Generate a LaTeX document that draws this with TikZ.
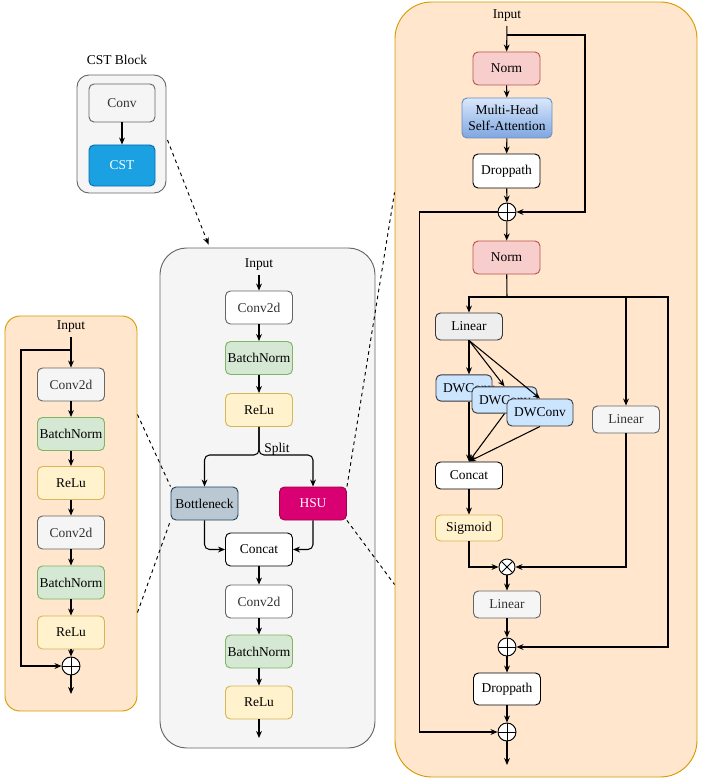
\documentclass[tikz,border=0pt]{standalone}
\usepackage{fontspec}
\setmainfont{Liberation Serif}
\usetikzlibrary{arrows.meta,calc,positioning}
\definecolor{orfill}{HTML}{FFE6CC}
\definecolor{ordraw}{HTML}{D79B00}
\definecolor{gyfill}{HTML}{F5F5F5}
\definecolor{gydraw}{HTML}{666666}
\definecolor{gytext}{HTML}{333333}
\definecolor{grfill}{HTML}{D5E8D4}
\definecolor{grdraw}{HTML}{82B366}
\definecolor{ylfill}{HTML}{FFF2CC}
\definecolor{yldraw}{HTML}{D6B656}
\definecolor{rdfill}{HTML}{F8CECC}
\definecolor{rddraw}{HTML}{B85450}
\definecolor{bltop}{HTML}{DAE8FC}
\definecolor{blbot}{HTML}{7EA6E0}
\definecolor{bldraw}{HTML}{6C8EBF}
\definecolor{dwfill}{HTML}{CCE5FF}
\definecolor{dkdraw}{HTML}{36393D}
\definecolor{lnfill}{HTML}{EEEEEE}
\definecolor{btfill}{HTML}{BAC8D3}
\definecolor{btdraw}{HTML}{23445D}
\definecolor{hsfill}{HTML}{D80073}
\definecolor{hsdraw}{HTML}{A50040}
\definecolor{csfill}{HTML}{1BA1E2}
\definecolor{csdraw}{HTML}{006EAF}
\tikzset{pin/.style={-{Stealth[length=6pt,width=5pt]}, line width=0.9pt},
  wire/.style={line width=0.9pt},
  dashln/.style={dashed, line width=0.8pt},
  blk/.style={draw, line width=0.8pt, rounded corners=1.5mm, minimum width=20.1mm,
    minimum height=9.9mm, inner sep=1pt, align=center},
  gybox/.style={blk, fill=gyfill, draw=gydraw, text=gytext},
  grbox/.style={blk, fill=grfill, draw=grdraw},
  ylbox/.style={blk, fill=ylfill, draw=yldraw},
  rdbox/.style={blk, fill=rdfill, draw=rddraw},
  wtbox/.style={blk, fill=white, draw=black},
  dwbox/.style={blk, fill=dwfill, draw=dkdraw, minimum height=7.9mm},
  panel/.style={draw, line width=0.8pt, fill=orfill, draw=ordraw},
  gypanel/.style={draw, line width=0.8pt, fill=gyfill, draw=gydraw},
  addnode/.style={circle, draw, fill=white, line width=0.8pt, minimum size=5.4mm, inner sep=0pt,
    path picture={\draw[line width=0.8pt] (path picture bounding box.north) -- (path picture bounding box.south)
      (path picture bounding box.west) -- (path picture bounding box.east);}},
  mulnode/.style={circle, draw, fill=white, line width=0.8pt, minimum size=4.8mm, inner sep=0pt,
    path picture={\draw[line width=0.8pt] (path picture bounding box.north west) -- (path picture bounding box.south east)
      (path picture bounding box.south west) -- (path picture bounding box.north east);}}}

\begin{document}
\begin{tikzpicture}[x=0.3mm, y=-0.3mm, font=\fontsize{11.5}{13.8}\selectfont]
  \useasboundingbox (0,0) rectangle (700,779);
  % panels
  \node[gypanel, rounded corners=3.6mm, minimum width=26.7mm, minimum height=35.4mm] (cstblk) at (121.5,134) {};
  \node[gypanel, rounded corners=8mm, minimum width=64.5mm, minimum height=150mm] (ctr) at (267.5,498) {};
  \node[panel, rounded corners=4.5mm, minimum width=39.6mm, minimum height=118.5mm] (lft) at (71,513.5) {};
  \node[panel, rounded corners=11mm, minimum width=90.6mm, minimum height=232.5mm] (rgt) at (546,389.5) {};

  % CST block
  \node (cstlbl) at (117,60) {CST Block};
  \node[gybox, minimum width=19.8mm, minimum height=11.4mm] (conv) at (122,103) {Conv};
  \node[blk, fill=csfill, draw=csdraw, text=white, minimum width=19.8mm, minimum height=12.3mm] (cst) at (122,165.5) {CST};
  \draw[pin] (conv) -- (cst);

  % center
  \node (cin) at (259,265) {Input};
  \node[gybox, fill=white] (cc1) at (259,307.5) {Conv2d};
  \node[grbox] (cb1) at (259,358) {BatchNorm};
  \node[ylbox] (cr1) at (259,410) {ReLu};
  \coordinate (csp) at (259,455);
  \node (split) at (277,449) {Split};
  \node[blk, fill=btfill, draw=btdraw] (bott) at (204.5,503.5) {Bottleneck};
  \node[blk, fill=hsfill, draw=hsdraw, text=white] (hsu) at (313,503.5) {HSU};
  \node[wtbox] (ccat) at (259,549.5) {Concat};
  \node[gybox, fill=white] (cc2) at (259,601.5) {Conv2d};
  \node[grbox] (cb2) at (259,651.5) {BatchNorm};
  \node[ylbox] (cr2) at (259,702.5) {ReLu};
  \coordinate (cout) at (259,738);
  \draw[pin] (cin) -- (cc1);
  \draw[pin] (cc1) -- (cb1);
  \draw[pin] (cb1) -- (cr1);
  \draw[pin, rounded corners=1.5mm] (cr1.south) -- (csp) -| (bott.north);
  \draw[pin, rounded corners=1.5mm] (cr1.south) -- (csp) -| (hsu.north);
  \draw[pin, rounded corners=1.5mm] (bott.south) |- (ccat.west);
  \draw[pin, rounded corners=1.5mm] (hsu.south) |- (ccat.east);
  \draw[pin] (ccat) -- (cc2);
  \draw[pin] (cc2) -- (cb2);
  \draw[pin] (cb2) -- (cr2);
  \draw[pin] (cr2) -- (cout);

  % left
  \node (lin) at (71,327) {Input};
  \node[gybox] (lc1) at (71,384.5) {Conv2d};
  \node[grbox] (lb1) at (71,434) {BatchNorm};
  \node[ylbox] (lr1) at (71,483) {ReLu};
  \node[gybox] (lc2) at (71,532.5) {Conv2d};
  \node[grbox] (lb2) at (71,582.5) {BatchNorm};
  \node[ylbox] (lr2) at (71,632.5) {ReLu};
  \node[addnode] (ladd) at (71,666) {};
  \coordinate (lsk) at (71,350);
  \coordinate (lout) at (71,694);
  \draw[pin] (lin) -- (lc1);
  \draw[pin] (lc1) -- (lb1);
  \draw[pin] (lb1) -- (lr1);
  \draw[pin] (lr1) -- (lc2);
  \draw[pin] (lc2) -- (lb2);
  \draw[pin] (lb2) -- (lr2);
  \draw[pin] (lr2) -- (ladd);
  \draw[pin] (lsk) -- ++(-50,0) |- (ladd.west);
  \draw[pin] (ladd) -- (lout);

  % right
  \node (rin) at (507,16) {Input};
  \node[rdbox] (rn1) at (506.5,68.5) {Norm};
  \node[blk, top color=bltop, bottom color=blbot, draw=bldraw, minimum width=27mm, minimum height=12mm] (rmh) at (507,118) {Multi-Head\\Self-Attention};
  \node[wtbox, minimum height=10.2mm] (rdp1) at (506.5,171) {Droppath};
  \node[addnode] (radd1) at (507,212) {};
  \node[rdbox] (rn2) at (506.5,257.5) {Norm};
  \coordinate (rbus) at (507,297);
  \coordinate (rsk) at (507,35);
  \node[blk, fill=lnfill, draw=dkdraw, minimum height=8.1mm] (rli) at (469,326.5) {Linear};
  \node[dwbox, minimum width=0pt, text width=12.6mm, inner xsep=2.1mm, align=left] (dw1) at (464,388) {DWConv};
  \node[dwbox, minimum width=0pt, text width=15.3mm, inner xsep=2.1mm, align=left] (dw2) at (504.5,400) {DWConv};
  \node[dwbox, minimum width=19.8mm, minimum height=8.1mm] (dw3) at (540,412.5) {DWConv};
  \node[wtbox, minimum height=8.1mm] (rcat) at (469,475.5) {Concat};
  \node[ylbox, minimum height=7.8mm] (rsig) at (469,528) {Sigmoid};
  \node[gybox, minimum height=8.1mm] (rlr) at (626,419.5) {Linear};
  \node[mulnode] (rmul) at (507,567) {};
  \node[gybox, minimum height=8.1mm] (rl2) at (507,604.5) {Linear};
  \node[addnode] (radd2) at (507,647) {};
  \node[wtbox, minimum height=9.6mm] (rdp2) at (507,689) {Droppath};
  \node[addnode] (radd3) at (507,732) {};
  \coordinate (rout) at (507,765);
  \draw[pin] (rin) -- (rn1);
  \draw[pin] (rn1) -- (rmh);
  \draw[pin] (rmh) -- (rdp1);
  \draw[pin] (rdp1) -- (radd1);
  \draw[pin] (rsk) -- ++(78,0) |- (radd1.east);
  \draw[pin] (radd1) -- (rn2);
  \draw[pin] (radd1.west) -- ++(-78,0) |- (radd3.west);
  \draw[wire] (rn2) -- (rbus);
  \draw[pin] (rbus) -| (rli.north);
  \draw[pin] (rbus) -- ++(161,0) |- (radd2.east);
  \draw[pin] (rlr.north |- rbus) -- (rlr.north);
  \draw[pin] (rli.south) -- (rli.south |- dw1.north);
  \draw[pin] (rli.south) -- (dw2.north);
  \draw[pin] (rli.south) -- (dw3.north);
  \draw[pin] (rli.south |- dw1.south) -- (rcat.north);
  \draw[pin] (dw2.south) -- (rcat.north);
  \draw[pin] (dw3.south) -- (rcat.north);
  \draw[pin] (rcat) -- (rsig);
  \draw[pin] (rsig.south) |- (rmul.west);
  \draw[pin] (rlr.south) |- (rmul.east);
  \draw[pin] (rmul) -- (rl2);
  \draw[pin] (rl2) -- (radd2);
  \draw[pin] (radd2) -- (rdp2);
  \draw[pin] (rdp2) -- (radd3);
  \draw[pin] (radd3) -- (rout);

  % zoom lines
  \draw[dashln, -{Stealth[length=6pt,width=5pt]}] ($(cstblk.east)+(1,6)$) -- ($(ctr.north)+(-59,-3)$);
  \draw[dashln] ($(lft.east)+(0,-99)$) -- (bott.north west);
  \draw[dashln] ($(lft.east)+(0,99)$) -- (bott.south west);
  \draw[dashln] (hsu.north east) -- ($(rgt.west)+(0,-197)$);
  \draw[dashln] (hsu.south east) -- ($(rgt.west)+(0,195)$);
\end{tikzpicture}
\end{document}
